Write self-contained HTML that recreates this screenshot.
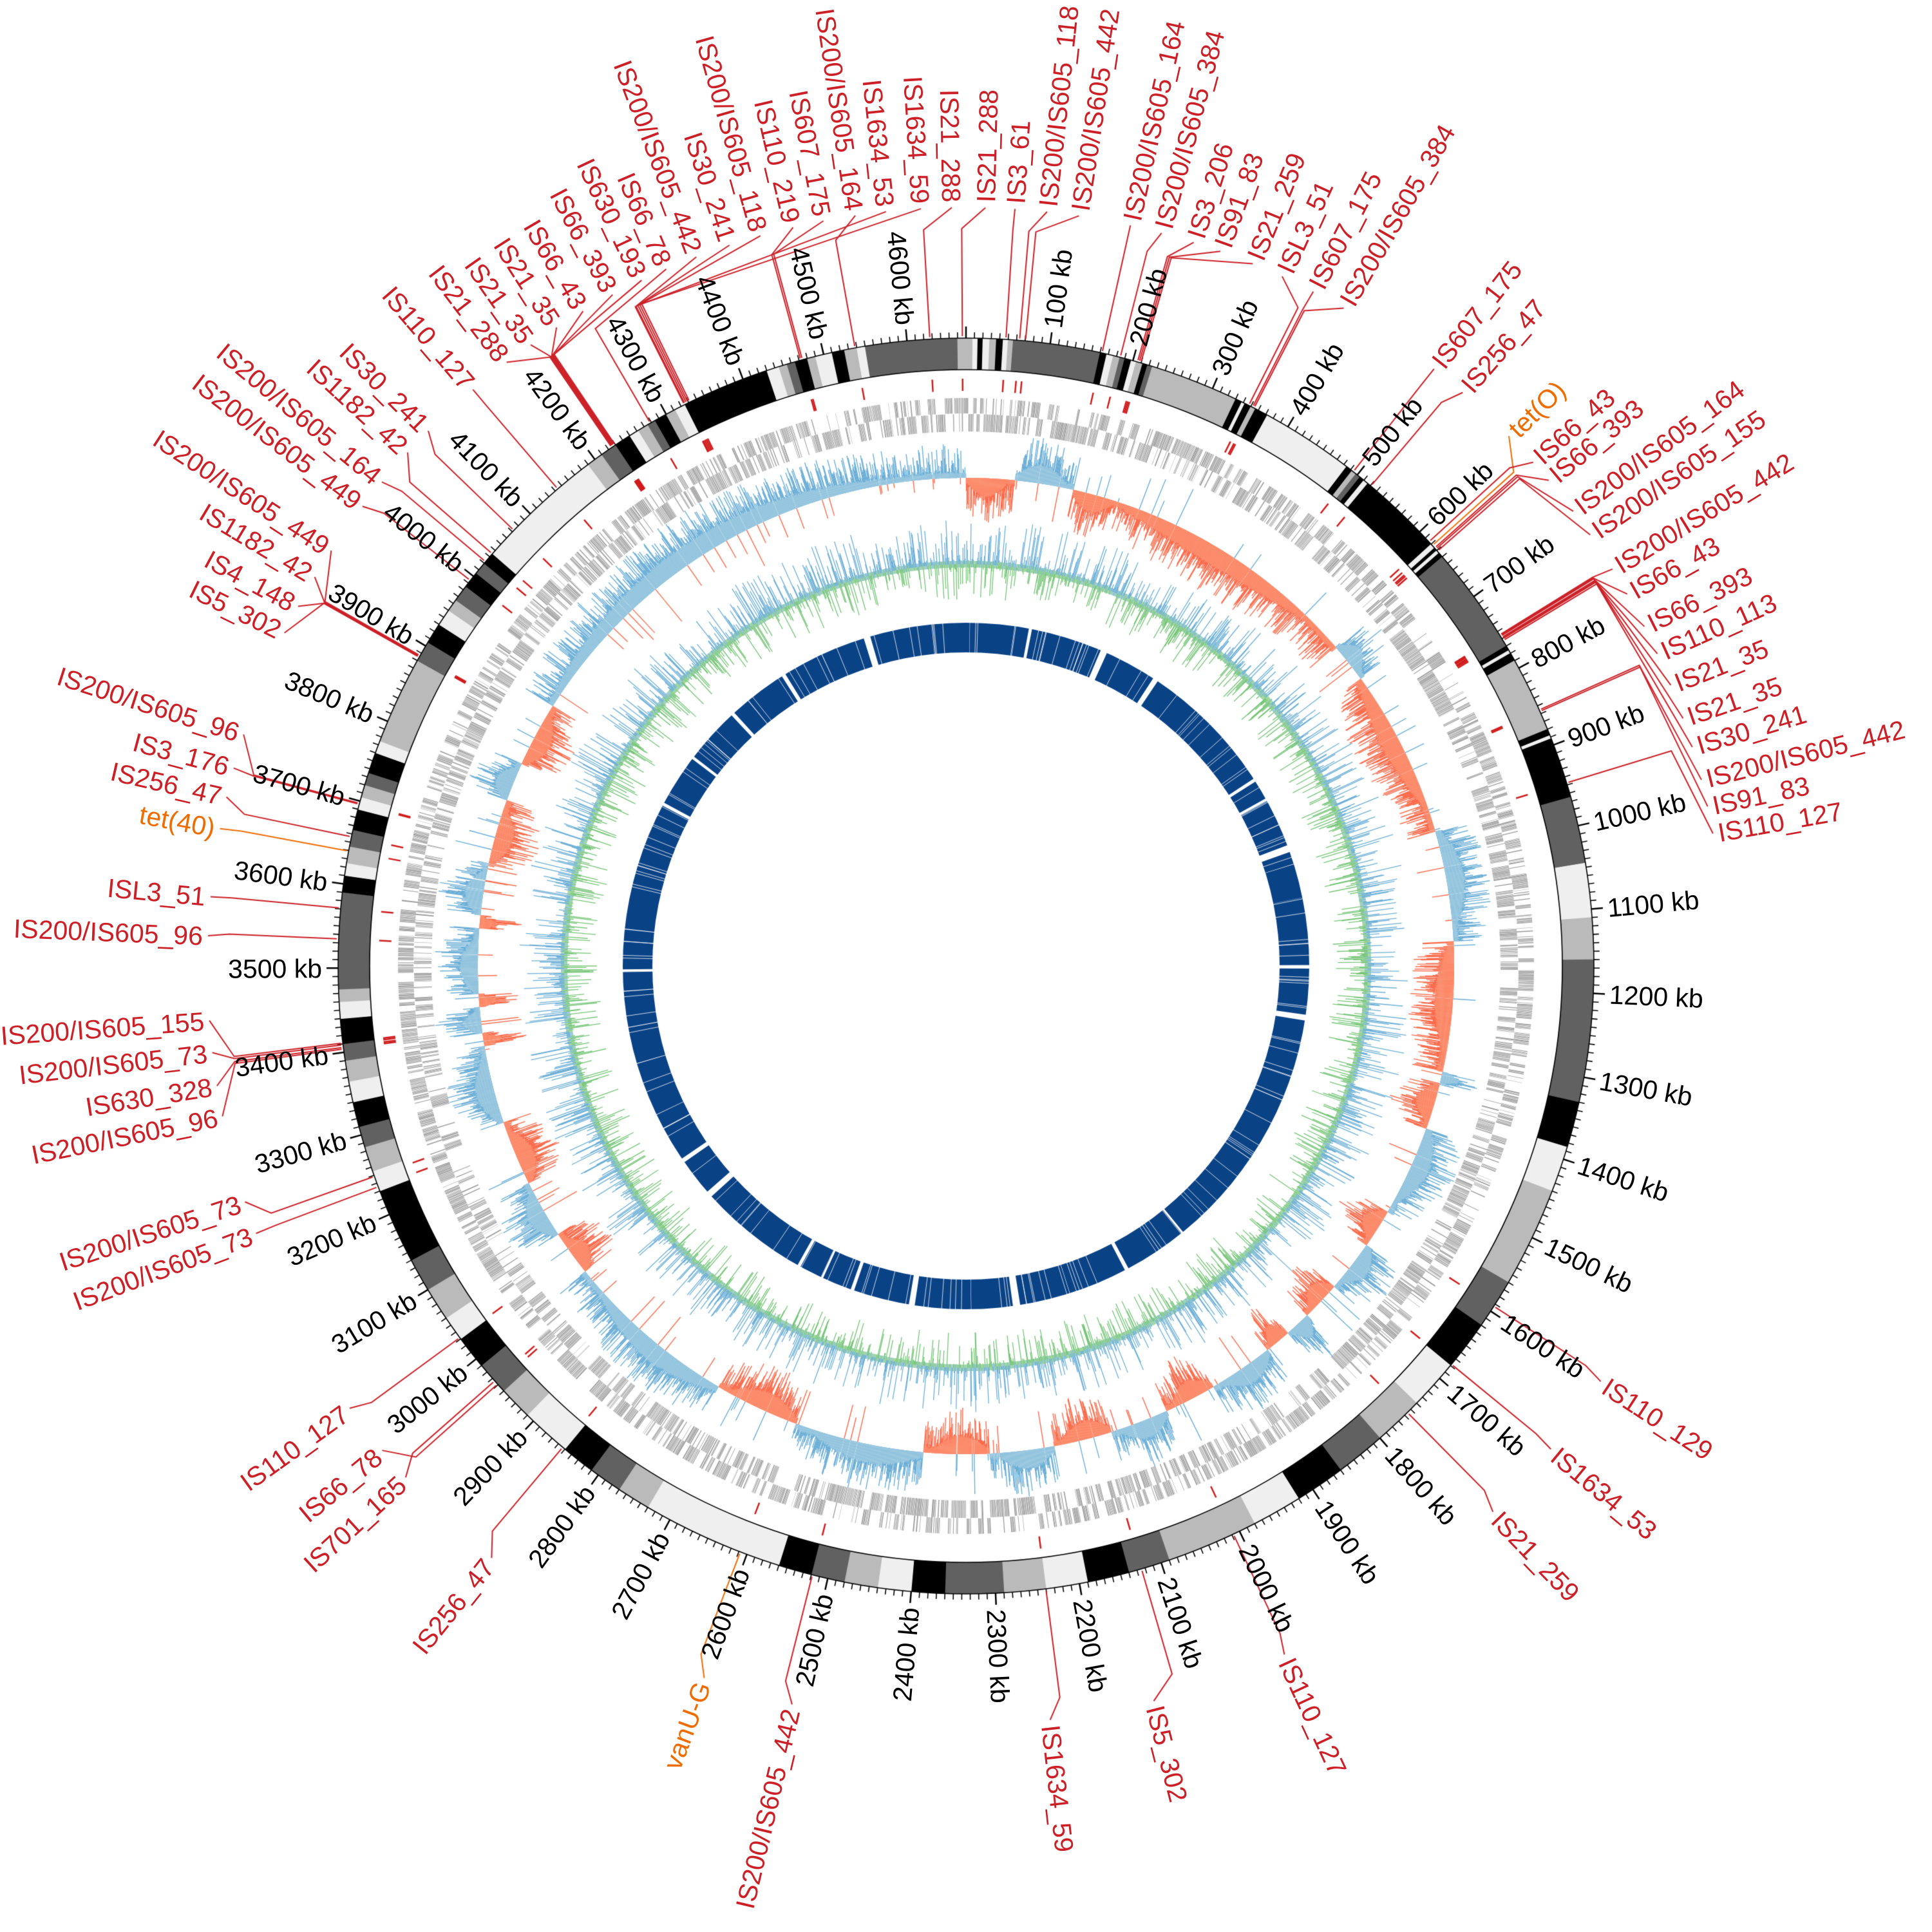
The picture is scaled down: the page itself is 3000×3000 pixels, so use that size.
<!DOCTYPE html>
<html><head><meta charset="utf-8"><style>
html,body{margin:0;padding:0;background:#fff;}
#wrap{position:relative;width:3000px;height:3000px;overflow:hidden;}
canvas,svg{position:absolute;left:0;top:0;}
text{font-family:"Liberation Sans",sans-serif;font-size:41px;}
.t{fill:#000;}
.s{fill:#cc1f26;}
.o{fill:#ef6c00;}
</style></head><body><div id="wrap">
<canvas id="c" width="3000" height="3000"></canvas>
<svg id="sv" width="3000" height="3000" viewBox="0 0 3000 3000">
<g id="ticks">
<text class="t" data-k="100">100 kb</text><text class="t" data-k="200">200 kb</text><text class="t" data-k="300">300 kb</text><text class="t" data-k="400">400 kb</text><text class="t" data-k="500">500 kb</text><text class="t" data-k="600">600 kb</text><text class="t" data-k="700">700 kb</text><text class="t" data-k="800">800 kb</text><text class="t" data-k="900">900 kb</text><text class="t" data-k="1000">1000 kb</text><text class="t" data-k="1100">1100 kb</text><text class="t" data-k="1200">1200 kb</text><text class="t" data-k="1300">1300 kb</text><text class="t" data-k="1400">1400 kb</text><text class="t" data-k="1500">1500 kb</text><text class="t" data-k="1600">1600 kb</text><text class="t" data-k="1700">1700 kb</text><text class="t" data-k="1800">1800 kb</text><text class="t" data-k="1900">1900 kb</text><text class="t" data-k="2000">2000 kb</text><text class="t" data-k="2100">2100 kb</text><text class="t" data-k="2200">2200 kb</text><text class="t" data-k="2300">2300 kb</text><text class="t" data-k="2400">2400 kb</text><text class="t" data-k="2500">2500 kb</text><text class="t" data-k="2600">2600 kb</text><text class="t" data-k="2700">2700 kb</text><text class="t" data-k="2800">2800 kb</text><text class="t" data-k="2900">2900 kb</text><text class="t" data-k="3000">3000 kb</text><text class="t" data-k="3100">3100 kb</text><text class="t" data-k="3200">3200 kb</text><text class="t" data-k="3300">3300 kb</text><text class="t" data-k="3400">3400 kb</text><text class="t" data-k="3500">3500 kb</text><text class="t" data-k="3600">3600 kb</text><text class="t" data-k="3700">3700 kb</text><text class="t" data-k="3800">3800 kb</text><text class="t" data-k="3900">3900 kb</text><text class="t" data-k="4000">4000 kb</text><text class="t" data-k="4100">4100 kb</text><text class="t" data-k="4200">4200 kb</text><text class="t" data-k="4300">4300 kb</text><text class="t" data-k="4400">4400 kb</text><text class="t" data-k="4500">4500 kb</text><text class="t" data-k="4600">4600 kb</text>
</g>
<g id="labs">
<text class="s" data-a="336.2" data-f="4300">IS66_78</text>
<text class="s" data-a="338.6" data-f="4345">IS200/IS605_442</text>
<text class="s" data-a="341.2" data-f="4346">IS30_241</text>
<text class="s" data-a="343.6" data-f="4348">IS200/IS605_118</text>
<text class="s" data-a="346.1" data-f="4490">IS110_219</text>
<text class="s" data-a="348.4" data-f="4492">IS607_175</text>
<text class="s" data-a="350.8" data-f="4555">IS200/IS605_164</text>
<text class="s" data-a="353.1" data-f="4350">IS1634_53</text>
<text class="s" data-a="355.7" data-f="4352">IS1634_59</text>
<text class="s" data-a="358.0" data-f="4643">IS21_288</text>
<text class="s" data-a="0.5" data-f="4681">IS21_288</text>
<text class="s" data-a="2.7" data-f="32">IS3_61</text>
<text class="s" data-a="5.1" data-f="48">IS200/IS605_118</text>
<text class="s" data-a="7.5" data-f="55">IS200/IS605_442</text>
<text class="s" data-a="11.4" data-f="146">IS200/IS605_164</text>
<text class="s" data-a="13.8" data-f="168">IS200/IS605_384</text>
<text class="s" data-a="16.3" data-f="189">IS3_206</text>
<text class="s" data-a="18.4" data-f="191">IS91_83</text>
<text class="s" data-a="21.0" data-f="193">IS21_259</text>
<text class="s" data-a="23.4" data-f="330">ISL3_51</text>
<text class="s" data-a="26.0" data-f="335">IS607_175</text>
<text class="s" data-a="28.6" data-f="337">IS200/IS605_384</text>
<text class="s" data-a="36.8" data-f="477">IS607_175</text>
<text class="s" data-a="39.6" data-f="504">IS256_47</text>
<text class="o" data-a="44.4" data-f="606">tet(O)</text>
<text class="s" data-a="47.1" data-f="600">IS66_43</text>
<text class="s" data-a="48.9" data-f="610">IS66_393</text>
<text class="s" data-a="51.9" data-f="612">IS200/IS605_164</text>
<text class="s" data-a="54.1" data-f="615">IS200/IS605_155</text>
<text class="s" data-a="57.2" data-f="740">IS200/IS605_442</text>
<text class="s" data-a="59.4" data-f="741">IS66_43</text>
<text class="s" data-a="62.2" data-f="742">IS66_393</text>
<text class="s" data-a="64.5" data-f="744">IS110_113</text>
<text class="s" data-a="67.1" data-f="745">IS21_35</text>
<text class="s" data-a="69.8" data-f="746">IS21_35</text>
<text class="s" data-a="72.1" data-f="748">IS30_241</text>
<text class="s" data-a="74.7" data-f="842">IS200/IS605_442</text>
<text class="s" data-a="76.8" data-f="844">IS91_83</text>
<text class="s" data-a="78.9" data-f="936">IS110_127</text>
<text class="s" data-a="123" data-f="1600">IS110_129</text>
<text class="s" data-a="129.5" data-f="1688">IS1634_53</text>
<text class="s" data-a="136.1" data-f="1768">IS21_259</text>
<text class="s" data-a="155.7" data-f="2029">IS110_127</text>
<text class="s" data-a="166.4" data-f="2149">IS5_302</text>
<text class="s" data-a="174.5" data-f="2268">IS1634_59</text>
<text class="s" data-a="194.4" data-f="2553">IS200/IS605_442</text>
<text class="o" data-a="201.4" data-f="2644">vanU-G</text>
<text class="s" data-a="220" data-f="2892">IS256_47</text>
<text class="s" data-a="228.9" data-f="3005">IS701_165</text>
<text class="s" data-a="231.6" data-f="3000">IS66_78</text>
<text class="s" data-a="235.6" data-f="3071">IS110_127</text>
<text class="s" data-a="250.5" data-f="3274">IS200/IS605_73</text>
<text class="s" data-a="253" data-f="3287">IS200/IS605_73</text>
<text class="s" data-a="259.6" data-f="3441">IS200/IS605_96</text>
<text class="s" data-a="261.9" data-f="3443">IS630_328</text>
<text class="s" data-a="264.4" data-f="3446">IS200/IS605_73</text>
<text class="s" data-a="266.8" data-f="3448">IS200/IS605_155</text>
<text class="s" data-a="273.1" data-f="3570">IS200/IS605_96</text>
<text class="s" data-a="276" data-f="3606">ISL3_51</text>
<text class="o" data-a="281.1" data-f="3673">tet(40)</text>
<text class="s" data-a="283.5" data-f="3690">IS256_47</text>
<text class="s" data-a="285.7" data-f="3729">IS3_176</text>
<text class="s" data-a="288.3" data-f="3730">IS200/IS605_96</text>
<text class="s" data-a="296.4" data-f="3914">IS5_302</text>
<text class="s" data-a="298.6" data-f="3914">IS4_148</text>
<text class="s" data-a="301.1" data-f="3915">IS1182_42</text>
<text class="s" data-a="303.4" data-f="3916">IS200/IS605_449</text>
<text class="s" data-a="307.4" data-f="4021">IS200/IS605_449</text>
<text class="s" data-a="309.7" data-f="4049">IS200/IS605_164</text>
<text class="s" data-a="312.6" data-f="4061">IS1182_42</text>
<text class="s" data-a="314.8" data-f="4098">IS30_241</text>
<text class="s" data-a="319.3" data-f="4168">IS110_127</text>
<text class="s" data-a="322.5" data-f="4247">IS21_288</text>
<text class="s" data-a="324.7" data-f="4248">IS21_35</text>
<text class="s" data-a="327" data-f="4249">IS21_35</text>
<text class="s" data-a="329.3" data-f="4250">IS66_43</text>
<text class="s" data-a="331.8" data-f="4251">IS66_393</text>
<text class="s" data-a="334.2" data-f="4252">IS630_193</text>
</g>
</svg>
</div>
<script>
(function(){
var cx=1500,cy=1500,L=4670,D=Math.PI/180;
var s=12345;function rnd(){s|=0;s=s+0x6D2B79F5|0;var t=Math.imul(s^s>>>15,1|s);t=t+Math.imul(t^t>>>7,61|t)^t;return((t^t>>>14)>>>0)/4294967296;}
function A(kb){return kb/L*360;}
function P(r,t){return [cx+r*Math.sin(t*D),cy-r*Math.cos(t*D)];}
var c=document.getElementById('c').getContext('2d');
function wedge(r1,r2,t1,t2,col){c.beginPath();c.arc(cx,cy,r2,(t1-90)*D,(t2-90)*D);c.arc(cx,cy,r1,(t2-90)*D,(t1-90)*D,true);c.closePath();c.fillStyle=col;c.fill();}
function rad(r1,r2,t,col,w){var a=P(r1,t),b=P(r2,t);c.beginPath();c.moveTo(a[0],a[1]);c.lineTo(b[0],b[1]);c.strokeStyle=col;c.lineWidth=w;c.stroke();}
var C={K:'#000000',D:'#616161',L:'#bababa',W:'#efefef'};
var B=[[0,8,'L'],[8,14,'W'],[14,20,'K'],[20,28,'W'],[28,36,'L'],[36,44,'K'],[44,50,'W'],[50,56,'L'],[56,160,'D'],[160,168,'K'],[168,176,'W'],[176,184,'L'],[184,190,'D'],[190,198,'K'],[198,204,'W'],[204,212,'L'],[212,218,'K'],[218,224,'D'],[224,330,'L'],[330,338,'K'],[338,342,'W'],[342,350,'K'],[350,356,'L'],[356,372,'K'],[372,484,'W'],[484,492,'K'],[492,498,'L'],[498,504,'D'],[504,510,'K'],[510,516,'W'],[516,620,'K'],[620,626,'W'],[626,630,'K'],[630,634,'W'],[634,640,'K'],[640,770,'D'],[770,776,'K'],[776,780,'W'],[780,790,'K'],[790,880,'L'],[880,888,'K'],[888,892,'W'],[892,965,'K'],[965,1045,'D'],[1045,1110,'W'],[1110,1160,'L'],[1160,1330,'D'],[1330,1385,'K'],[1385,1440,'W'],[1440,1560,'L'],[1560,1620,'D'],[1620,1680,'K'],[1680,1740,'W'],[1740,1800,'L'],[1800,1860,'D'],[1860,1920,'K'],[1920,1980,'W'],[1980,2090,'L'],[2090,2140,'D'],[2140,2190,'K'],[2190,2240,'W'],[2240,2290,'L'],[2290,2360,'D'],[2360,2400,'K'],[2400,2440,'W'],[2440,2480,'L'],[2480,2520,'D'],[2520,2560,'K'],[2560,2730,'W'],[2730,2770,'L'],[2770,2810,'D'],[2810,2850,'K'],[2850,2910,'W'],[2910,2950,'L'],[2950,2990,'D'],[2990,3030,'K'],[3030,3060,'W'],[3060,3100,'L'],[3100,3140,'D'],[3140,3230,'K'],[3230,3255,'W'],[3255,3285,'L'],[3285,3310,'D'],[3310,3340,'K'],[3340,3365,'W'],[3365,3390,'L'],[3390,3410,'D'],[3410,3440,'K'],[3440,3460,'W'],[3460,3475,'L'],[3475,3590,'D'],[3590,3610,'K'],[3610,3625,'W'],[3625,3645,'L'],[3645,3665,'D'],[3665,3690,'K'],[3690,3705,'W'],[3705,3720,'L'],[3720,3735,'D'],[3735,3760,'K'],[3760,3775,'W'],[3775,3880,'L'],[3880,3905,'D'],[3905,3930,'K'],[3930,3950,'W'],[3950,3965,'L'],[3965,3985,'D'],[3985,4005,'K'],[4005,4020,'D'],[4020,4035,'K'],[4035,4190,'W'],[4190,4210,'L'],[4210,4230,'D'],[4230,4250,'K'],[4250,4262,'W'],[4262,4275,'L'],[4275,4285,'D'],[4285,4300,'K'],[4300,4312,'L'],[4312,4325,'W'],[4325,4430,'K'],[4430,4445,'W'],[4445,4455,'L'],[4455,4465,'D'],[4465,4480,'K'],[4480,4490,'L'],[4490,4510,'W'],[4510,4525,'K'],[4525,4540,'L'],[4540,4550,'W'],[4550,4660,'D'],[4660,4670,'L']];
B.forEach(function(b){wedge(926,975,A(b[0])-0.02,A(b[1])+0.02,C[b[2]]);});
c.strokeStyle='#000';c.lineWidth=1.6;
c.beginPath();c.arc(cx,cy,975,0,2*Math.PI);c.stroke();
c.beginPath();c.arc(cx,cy,926,0,2*Math.PI);c.stroke();
for(var k=0;k<L;k+=10){var maj=(k%100==0);rad(975,maj?993:984,A(k),'#000',maj?2.5:1.6);}
var labs=document.querySelectorAll('#labs text');
function cL(t){return t+0.96*Math.cos(t*D)+0.87*Math.sin(t*D);}
function cF(t){return t+1.15*Math.cos(t*D)+1.04*Math.sin(t*D);}
// gene track
var kb=0,st=1;
while(kb<L){
 if(rnd()<0.05){kb+=1+rnd()*5;continue;}
 var run=1+Math.floor(rnd()*5);st=rnd()<0.5?1:-1;
 for(var i=0;i<run&&kb<L;i++){var len=0.3+rnd()*1.3;
  var r1=st>0?858:830,r2=st>0?882:857;
  if(rnd()<0.15){r1=830;r2=882;}
  wedge(r1,r2,A(kb),A(kb+len),rnd()<0.5?'#999999':'#a8a8a8');
  kb+=len+0.25+rnd()*0.5;}
}
// skew track
var R=[[0,75,-1],[75,165,1],[165,240,-1],[240,640,-1],[640,700,1],[700,960,-1],[960,1130,1],[1130,1330,-1],[1330,1350,1],[1350,1420,-1],[1420,1560,1],[1560,1620,-1],[1620,1700,1],[1700,1760,-1],[1760,1800,1],[1800,1840,-1],[1840,1940,1],[1940,2020,-1],[2020,2110,1],[2110,2200,-1],[2200,2300,1],[2300,2400,-1],[2400,2600,1],[2600,2730,-1],[2730,3000,1],[3000,3070,-1],[3070,3160,1],[3160,3260,-1],[3260,3380,1],[3380,3400,-1],[3400,3440,1],[3440,3460,-1],[3460,3560,1],[3560,3580,-1],[3580,3660,1],[3660,3760,-1],[3760,3820,1],[3820,3920,-1],[3920,4670,1]];
var base=758;
R.forEach(function(g){
 var n=g[1]-g[0];
 for(var x=g[0];x<g[1];x+=1){
  var tt=(x-g[0])/n, sgn=g[2];
  if(rnd()<0.03) sgn=-sgn;
  var fh=6+20*Math.sin(Math.PI*Math.min(1,tt*1.2))+rnd()*4;
  var sp=fh+Math.pow(rnd(),2.2)*45;
  var t=A(x+0.5);
  rad(base,base+sgn*sp,t,sgn>0?'#6baed6':'#fb6a4a',1.4);
  if(sgn==g[2]) rad(base,base+sgn*fh,t,sgn>0?'#9ecae1':'#fc9272',1.6);
 }
});
// GC track
var gb=624;
for(var x=0;x<L;x+=1){var t=A(x+0.5);
 var lb=rnd()<0.6?'#a1d99b':'#9ecae1';
 rad(gb-5,gb+5,t,lb,1.5);
 var u=rnd();
 if(u<0.5) rad(gb,gb+5+Math.pow(rnd(),3)*65,t,'#6baed6',1.3);
 else if(u<0.9) rad(gb,gb-5-Math.pow(rnd(),3)*50,t,'#74c476',1.3);
}
// inner blue ring
wedge(487,533,0,360,'#0a4286');
var x=0;
while(x<L){x+=30+rnd()*120; var w=rnd()<0.45?4+rnd()*12:0.6+rnd()*1.5; wedge(485,535,A(x),A(x+w),'#ffffff');}
for(var i=0;i<160;i++){var p=rnd()*L;rad(486,534,A(p),'#ffffff',0.8);}
for(var i=0;i<labs.length;i++){
 var e=labs[i];var tl=cL(parseFloat(e.getAttribute('data-a')));
 var tf=cF(parseFloat(e.getAttribute('data-f'))/4700*360);
 var col=e.getAttribute('class')=='o'?'#ef6c00':'#cc1f26';
 rad(893,912,tf,'#d01c1c',2.5);
 var a=P(978,tf),b=P(1145,tf),d=P(1178,tl);
 c.beginPath();c.moveTo(a[0],a[1]);c.lineTo(b[0],b[1]);c.lineTo(d[0],d[1]);c.strokeStyle=col;c.lineWidth=2;c.stroke();
 place(e,tl,1186);
}
function place(e,t,r){t=((t%360)+360)%360;
 if(t<180){e.setAttribute('x',cx+r);e.setAttribute('transform','rotate('+(t-90)+' '+cx+' '+cy+')');e.setAttribute('text-anchor','start');}
 else{e.setAttribute('x',cx-r);e.setAttribute('transform','rotate('+(t+90)+' '+cx+' '+cy+')');e.setAttribute('text-anchor','end');}
 e.setAttribute('y',cy);e.setAttribute('dy','0.36em');}
var tk=document.querySelectorAll('#ticks text');
for(var i=0;i<tk.length;i++){place(tk[i],A(parseFloat(tk[i].getAttribute('data-k'))),1000);}
})();
</script>
</body></html>
